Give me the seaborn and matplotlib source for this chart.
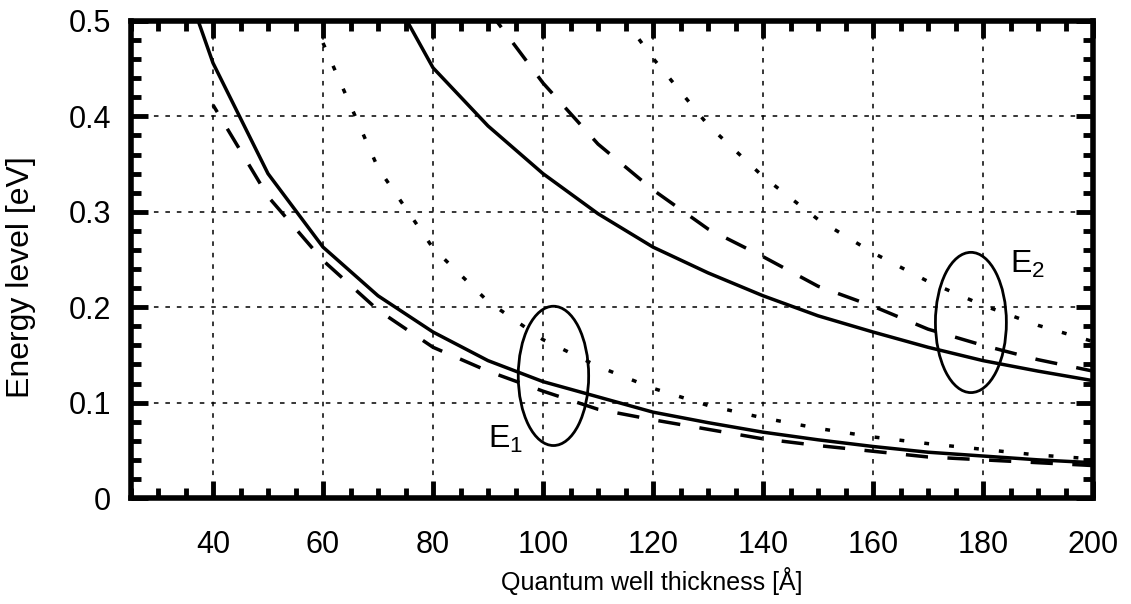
import numpy as np
import pandas as pd
import matplotlib
matplotlib.use("Agg")
import matplotlib.pyplot as plt
from matplotlib.patches import Ellipse
from matplotlib.ticker import MultipleLocator, FixedLocator, FuncFormatter
import seaborn as sns

# ---------------- data ----------------
# E1 solid
e1_solid_x = [30, 40, 50, 60, 70, 80, 90, 100, 110, 120, 130, 140, 150, 160, 170, 180, 190, 200]
e1_solid_y = [0.620, 0.456, 0.340, 0.263, 0.212, 0.174, 0.144, 0.122, 0.106, 0.090, 0.079,
              0.069, 0.061, 0.054, 0.048, 0.044, 0.040, 0.037]
# E1 dashed
e1_dash_x = [40, 50, 60, 70, 80, 90, 100, 110, 120, 130, 140, 150, 160, 170, 180, 190, 200]
e1_dash_y = [0.412, 0.316, 0.249, 0.197, 0.158, 0.133, 0.112, 0.093, 0.082, 0.072, 0.062,
             0.055, 0.049, 0.043, 0.040, 0.037, 0.034]
# E1 dotted
e1_dot_x = [60, 70, 80, 90, 100, 110, 120, 130, 140, 150, 160, 170, 180, 190, 200]
e1_dot_y = [0.477, 0.346, 0.262, 0.206, 0.166, 0.138, 0.115, 0.097, 0.084, 0.073, 0.064,
            0.057, 0.051, 0.045, 0.041]
# E2 solid
e2_solid_x = [70, 80, 90, 100, 110, 120, 130, 140, 150, 160, 170, 180, 190, 200]
e2_solid_y = [0.555, 0.451, 0.390, 0.340, 0.298, 0.263, 0.236, 0.212, 0.191, 0.174, 0.158,
              0.144, 0.133, 0.123]
# E2 dashed
e2_dash_x = [90, 100, 110, 120, 130, 140, 150, 160, 170, 180, 190, 200]
e2_dash_y = [0.512, 0.435, 0.371, 0.323, 0.282, 0.253, 0.222, 0.201, 0.177, 0.160, 0.145, 0.133]
# E2 dotted
e2_dot_x = [110, 120, 130, 140, 150, 160, 170, 180, 190, 200]
e2_dot_y = [0.539, 0.461, 0.391, 0.337, 0.292, 0.257, 0.227, 0.202, 0.181, 0.164]

x_ticks = [40, 60, 80, 100, 120, 140, 160, 180, 200]
y_ticks = [0, 0.1, 0.2, 0.3, 0.4, 0.5]

x_label = "Quantum well thickness [Å]"
y_label = "Energy level [eV]"

# ellipse annotations: (center x, center y, width, height) and labels
ell_e1 = (101.9, 0.128, 12.8, 0.146)
ell_e2 = (177.8, 0.184, 12.9, 0.147)
lab_e1 = (90.0, 0.052, r"E$_\mathregular{1}$")
lab_e2 = (184.9, 0.236, r"E$_\mathregular{2}$")

# ---------------- style ----------------
sns.set_theme(style="ticks")
plt.rcParams['font.family'] = ['Liberation Sans', 'DejaVu Sans']
plt.rcParams['mathtext.default'] = 'regular'

fig = plt.figure(figsize=(11.31, 6.04), dpi=100)
ax = fig.add_axes([130.5 / 1131, 1 - 498 / 604, (1093 - 130.5) / 1131, (498 - 21) / 604])

LW = 2.5
series = [
    (e1_solid_x, e1_solid_y, "-"),
    (e1_dash_x, e1_dash_y, (16.0, (6.4, 5.6))),
    (e1_dot_x, e1_dot_y, (0, (1.4, 5.8))),
    (e2_solid_x, e2_solid_y, "-"),
    (e2_dash_x, e2_dash_y, (0, (6.4, 5.6))),
    (e2_dot_x, e2_dot_y, (0, (1.4, 5.8))),
]
for xs, ys, ls in series:
    df = pd.DataFrame({"x": xs, "y": ys})
    sns.lineplot(data=df, x="x", y="y", ax=ax, color="black", linewidth=LW,
                 sort=False, errorbar=None, zorder=3)
    ln = ax.lines[-1]
    ln.set_linestyle(ls)
    ln.set_solid_capstyle("butt")

for (cx, cy, w, h) in (ell_e1, ell_e2):
    ax.add_patch(Ellipse((cx, cy), w, h, fill=False, edgecolor="black", linewidth=2.0, zorder=4))

for (tx, ty, s) in (lab_e1, lab_e2):
    ax.text(tx, ty, s, fontsize=23, color="black", ha="left", va="baseline", zorder=5)

ax.set_xlim(25, 200)
ax.set_ylim(0, 0.5)
ax.xaxis.set_major_locator(FixedLocator(x_ticks))
ax.yaxis.set_major_locator(FixedLocator(y_ticks))
ax.xaxis.set_minor_locator(MultipleLocator(5))
ax.yaxis.set_minor_locator(MultipleLocator(0.02))
ax.yaxis.set_major_formatter(FuncFormatter(lambda v, p: f"{v:g}"))
ax.xaxis.set_major_formatter(FuncFormatter(lambda v, p: f"{v:g}"))

ax.grid(True, which="major", color="black", linestyle=(0, (3.0, 4.5)), linewidth=1.1, zorder=1)

for sp in ax.spines.values():
    sp.set_visible(True)
    sp.set_linewidth(4)
    sp.set_color("black")

ax.tick_params(which="both", direction="in", top=True, right=True, color="black")
ax.tick_params(which="major", length=12, width=3.5)
ax.tick_params(which="minor", length=7, width=3.5)
ax.tick_params(axis="x", which="major", labelsize=22, pad=23, labelcolor="black")
ax.tick_params(axis="y", which="major", labelsize=22, pad=14, labelcolor="black")

ax.set_xlabel(x_label, fontsize=18, color="black", va="center", ha="center")
ax.xaxis.set_label_coords((652 - 130.5) / 962.5, (498 - 581) / 477)
ax.set_ylabel(y_label, fontsize=23, color="black", va="center", ha="center")
ax.yaxis.set_label_coords((21 - 130.5) / 962.5, (498 - 277) / 477)

ax.set_facecolor("white")
fig.patch.set_facecolor("white")
fig.savefig("out.png", dpi=100)
